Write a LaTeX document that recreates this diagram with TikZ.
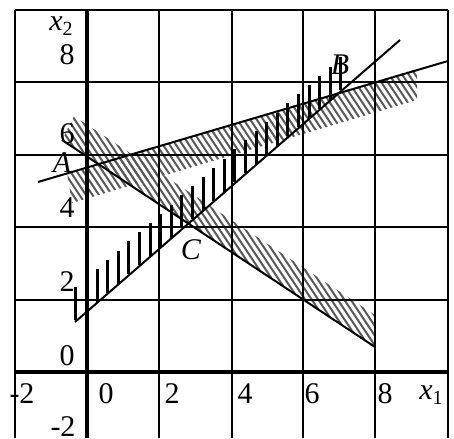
\documentclass[tikz,border=0pt]{standalone}
\usepackage{fontspec}
\setmainfont{Liberation Serif}
\newcommand\xsubscr[1]{\textit{x}\raisebox{-0.35ex}{\fontsize{10}{10}\selectfont #1}}
\begin{document}
\begin{tikzpicture}[x=0.5pt,y=-0.5pt,
  gridline/.style={line width=1pt},
  axisline/.style={line width=2pt},
  cline/.style={line width=1pt},
  lbl/.style={inner sep=0pt, font=\fontsize{15}{17}\selectfont},
  stripe/.style={black!65, line width=1pt},
  vstroke/.style={black, line width=1.5pt}]
\useasboundingbox (0,0) rectangle (454,438);

% hatched band above line 1
\begin{scope}
  \clip (62,140) -- (375,347) -- (375,315) -- (74,116) -- cycle;
  \foreach \s in {-200,-193.5,...,420} \draw[stripe] (\s,0) -- ++(300,450);
\end{scope}
% hatched band below line 3
\begin{scope}
  \clip (67,173) -- (417,69) -- (417,100) -- (72,203) -- cycle;
  \foreach \s in {-200,-193.5,...,420} \draw[stripe] (\s,0) -- ++(300,450);
\end{scope}
% vertical strokes above line 2
\foreach \x in {75.8,86.4,...,343} {
  \pgfmathsetmacro\yy{322-0.8677*(\x-75)}
  \draw[vstroke] (\x,\yy-1) -- (\x,\yy-34);
}

% grid
\foreach \x in {15,159,232,303,375,448} \draw[gridline] (\x,10) -- (\x,438);
\foreach \y in {10,82,155,227,300} \draw[gridline] (15,\y) -- (448,\y);
\draw[axisline] (87,10) -- (87,438);
\draw[axisline] (15,372) -- (448,372);

% constraint lines
\coordinate (L1s) at (62,140); \coordinate (L1e) at (375,347);
\coordinate (L2s) at (75,322); \coordinate (L2e) at (400,40);
\coordinate (L3s) at (38,182); \coordinate (L3e) at (448,61);
\draw[cline] (L1s) -- (L1e);
\draw[cline] (L2s) -- (L2e);
\draw[cline] (L3s) -- (L3e);

% labels
\node[lbl] (x2) at (61,26) {\xsubscr{2}};
\node[lbl] (y8) at (67,55) {8};
\node[lbl] (y6) at (67,134) {6};
\node[lbl] (y4) at (67,208) {4};
\node[lbl] (y2) at (67,282) {2};
\node[lbl] (y0) at (67,356) {0};
\node[lbl] (ym2) at (63,427) {-2};
\node[lbl] (xm2) at (22,394) {-2};
\node[lbl] (x0) at (106,394) {0};
\node[lbl] (xx2) at (172,394) {2};
\node[lbl] (x4) at (245,394) {4};
\node[lbl] (x6) at (312,394) {6};
\node[lbl] (x8) at (385,394) {8};
\node[lbl] (x1) at (431,395) {\xsubscr{1}};
\node[lbl] (A) at (62,163) {\textit{A}};
\node[lbl] (B) at (340,65) {\textit{B}};
\node[lbl] (C) at (191,250) {\textit{C}};
\end{tikzpicture}
\end{document}
